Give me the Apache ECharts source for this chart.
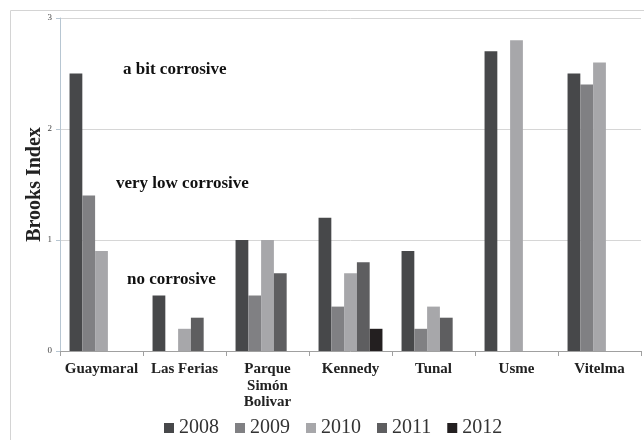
<!DOCTYPE html>
<html><head><meta charset="utf-8">
<script src="https://cdn.jsdelivr.net/npm/echarts@6/dist/echarts.min.js"></script>
<style>html,body{margin:0;padding:0;background:#fff}#c{width:644px;height:440px}</style>
</head><body><div id="c"></div>
<script>
var categories = ['Guaymaral', 'Las Ferias', 'Parque\nSimón\nBolivar', 'Kennedy', 'Tunal', 'Usme', 'Vitelma'];
var years = ['2008', '2009', '2010', '2011', '2012'];
var v2008 = [2.5, 0.5, 1.0, 1.2, 0.9, 2.7, 2.5];
var v2009 = [1.4, null, 0.5, 0.4, 0.2, null, 2.4];
var v2010 = [0.9, 0.2, 1.0, 0.7, 0.4, 2.8, 2.6];
var v2011 = [null, 0.3, 0.7, 0.8, 0.3, null, null];
var v2012 = [null, null, null, 0.2, null, null, null];
var yTicks = [0, 1, 2, 3];
var colors = ['#47484a', '#808083', '#a7a7aa', '#5e5e60', '#231f20'];
var serif = '"Liberation Serif", "DejaVu Serif", serif';
var allValues = [v2008, v2009, v2010, v2011, v2012];

var chart = echarts.init(document.getElementById('c'));
chart.setOption({
  animation: false,
  color: colors,
  grid: { left: 60, right: 3, top: 18, bottom: 89 },
  legend: {
    data: years, top: 413, left: 159,
    icon: 'rect', itemWidth: 10, itemHeight: 10, itemGap: 16,
    textStyle: { fontFamily: serif, fontSize: 20, color: '#333' }
  },
  xAxis: {
    type: 'category', data: categories,
    axisLine: { lineStyle: { color: '#a0a0a0' } },
    axisTick: { show: true, length: 5, lineStyle: { color: '#a0a0a0' } },
    axisLabel: { interval: 0, hideOverlap: false, fontFamily: serif, fontWeight: 'bold', fontSize: 15, color: '#222', lineHeight: 16.5, margin: 10 }
  },
  yAxis: {
    type: 'value', min: yTicks[0], max: yTicks[yTicks.length - 1], interval: 1,
    name: 'Brooks Index', nameLocation: 'middle', nameGap: 15, nameMoveOverlap: false,
    nameTextStyle: { fontFamily: serif, fontWeight: 'bold', fontSize: 20, color: '#222' },
    axisLine: { show: true, lineStyle: { color: '#b7c6d2' } },
    axisTick: { show: true, length: 4, lineStyle: { color: '#b7c6d2' } },
    axisLabel: { fontFamily: serif, fontSize: 9, color: '#444', margin: 8 },
    splitLine: { lineStyle: { color: '#d6d6d6' } }
  },
  series: years.map(function (y, i) {
    return { name: y, type: 'bar', data: allValues[i], barGap: '0%', barCategoryGap: '23%', itemStyle: { color: colors[i] } };
  }),
  graphic: [
    { type: 'rect', left: 8, top: 8, shape: { width: 700, height: 500 }, style: { fill: 'none', stroke: '#d4d4d4', lineWidth: 1 }, silent: true, z: -10 },
    { type: 'text', x: 123, y: 70, style: { text: 'a bit corrosive', font: 'bold 17px ' + serif, fill: '#111', verticalAlign: 'middle' } },
    { type: 'text', x: 116, y: 184, style: { text: 'very low corrosive', font: 'bold 17px ' + serif, fill: '#111', verticalAlign: 'middle' } },
    { type: 'text', x: 127, y: 280, style: { text: 'no corrosive', font: 'bold 17px ' + serif, fill: '#111', verticalAlign: 'middle' } }
  ]
});
</script></body></html>
